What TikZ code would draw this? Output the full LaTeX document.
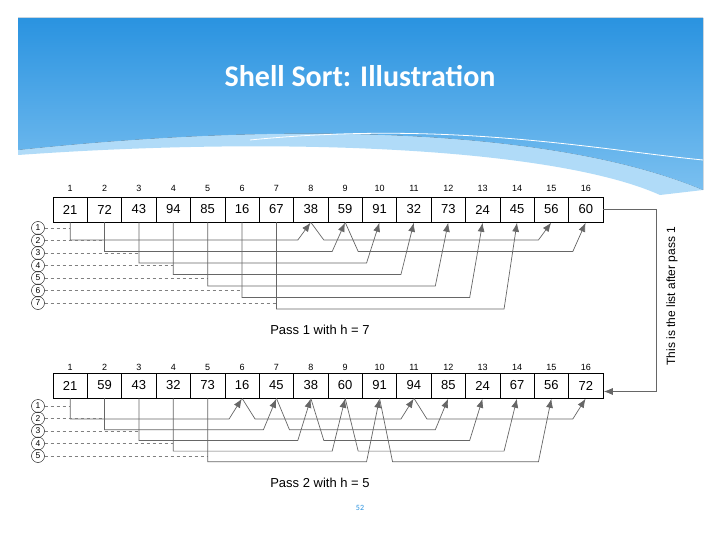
\documentclass[tikz,border=0pt]{standalone}
\usepackage{fontspec}
\setmainfont{Liberation Sans}
\newfontfamily\titlefont{Carlito}
\usetikzlibrary{arrows.meta,calc}
\definecolor{banner}{HTML}{2A93E0}
\definecolor{bannerlight}{HTML}{9DD3F7}
\tikzset{
  cell/.style={draw, rectangle, line width=0.6pt, minimum height=25pt, minimum width=34.4pt, inner sep=0pt, font=\fontsize{13}{15}\selectfont},
  idx/.style={font=\fontsize{9}{10}\selectfont},
  step circ/.style={draw, circle, inner sep=0.6pt, minimum size=13pt, font=\fontsize{8.5}{9}\selectfont},
  link/.style={draw=gray!80!black, line width=0.7pt},
  larrow/.style={link, -{Latex[length=9pt,width=7pt]}, shorten >=0.5pt},
  guide/.style={draw=gray, dashed, line width=0.5pt}
}
\begin{document}
\begin{tikzpicture}[x=1pt,y=-1pt]
\useasboundingbox (0,0) rectangle (720,540);
% slide background
\fill[white] (0,0) rectangle (720,540);
\fill[top color=banner, bottom color=bannerlight!70!banner]
  (18,18) -- (703,18) -- (703,190) .. controls (560,130) and (300,120) .. (18,150) -- cycle;
\fill[bannerlight, opacity=0.8]
  (703,190) .. controls (560,130) and (300,120) .. (18,150) -- (18,155)
  .. controls (300,135) and (560,150) .. (660,195) -- cycle;
\draw[white, line width=0.8pt] (250,140) .. controls (450,120) and (600,150) .. (703,160);
\node[font=\titlefont\bfseries\fontsize{30}{34}\selectfont, text=white] (title) at (360,76) {Shell Sort: Illustration};
\node[font=\titlefont\fontsize{8}{9}\selectfont, text=banner] (page) at (360,508) {52};

% the two lists
\foreach \v [count=\i] in {21,72,43,94,85,16,67,38,59,91,32,73,24,45,56,60} {
  \node[cell] (a\i) at ({53+34.375*(\i-0.5)},209.5) {\v};
  \node[idx] (ia\i) at ({53+34.375*(\i-0.5)},188) {\i};
}
\foreach \v [count=\i] in {21,59,43,32,73,16,45,38,60,91,94,85,24,67,56,72} {
  \node[cell] (b\i) at ({53+34.375*(\i-0.5)},385.5) {\v};
  \node[idx] (ib\i) at ({53+34.375*(\i-0.5)},367) {\i};
}

% pass 1, h = 7
\foreach \k in {1,...,7} {
  \node[step circ] (p\k) at (38,{228+12.5*(\k-1)}) {\k};
  \coordinate (l\k) at (0,{240+11.5*(\k-1)});
  \draw[guide] (p\k.east) -- (p\k -| a\k.south);
  \pgfmathtruncatemacro\jj{\k+7}
  \draw[larrow] (a\k.south) |- ([xshift=-13pt]a\jj.south |- l\k) -- (a\jj.south);
  \pgfmathtruncatemacro\mm{\k+14}
  \ifnum\mm<17
    \draw[larrow] (a\jj.south) -- ([xshift=13pt]a\jj.south |- l\k) -- ([xshift=-13pt]a\mm.south |- l\k) -- (a\mm.south);
  \fi
}
\node[font=\fontsize{13}{15}\selectfont] (pass1) at (320,330) {Pass 1 with h = 7};

% pass 2, h = 5
\foreach \k in {1,...,5} {
  \node[step circ] (q\k) at (38,{406+12.5*(\k-1)}) {\k};
  \coordinate (m\k) at (0,{419+10.7*(\k-1)});
  \draw[guide] (q\k.east) -- (q\k -| b\k.south);
  \pgfmathtruncatemacro\jj{\k+5}
  \draw[larrow] (b\k.south) |- ([xshift=-13pt]b\jj.south |- m\k) -- (b\jj.south);
  \pgfmathtruncatemacro\mm{\k+10}
  \draw[larrow] (b\jj.south) -- ([xshift=13pt]b\jj.south |- m\k) -- ([xshift=-13pt]b\mm.south |- m\k) -- (b\mm.south);
  \pgfmathtruncatemacro\nn{\k+15}
  \ifnum\nn<17
    \draw[larrow] (b\mm.south) -- ([xshift=13pt]b\mm.south |- m\k) -- ([xshift=-13pt]b\nn.south |- m\k) -- (b\nn.south);
  \fi
}
\node[font=\fontsize{13}{15}\selectfont] (pass2) at (320,483) {Pass 2 with h = 5};

% list carried over
\coordinate (turn) at (656,0);
\draw[larrow] (a16.east) -- (a16.east -| turn) -- ([yshift=-6pt]b16.east -| turn) -- ([yshift=-6pt]b16.east);
\node[rotate=90, font=\fontsize{12}{14}\selectfont] (note) at (672,296) {This is the list after pass 1};
\end{tikzpicture}
\end{document}
